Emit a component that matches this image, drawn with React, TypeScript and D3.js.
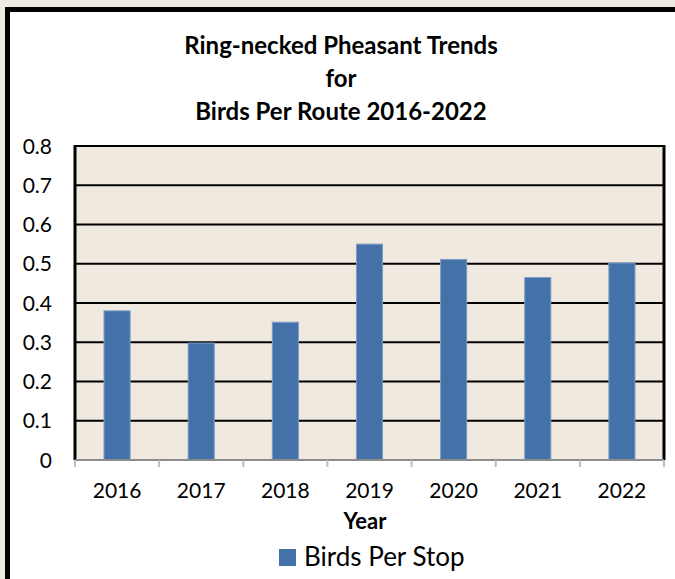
import React from "react";
import * as d3 from "d3";

const years = ["2016", "2017", "2018", "2019", "2020", "2021", "2022"];
const birdsPerStop = [0.38, 0.298, 0.351, 0.55, 0.511, 0.465, 0.502];
const yTicks = [0, 0.1, 0.2, 0.3, 0.4, 0.5, 0.6, 0.7, 0.8];
const titleLines = ["Ring-necked Pheasant Trends", "for", "Birds Per Route 2016-2022"];
const xTitle = "Year";
const seriesName = "Birds Per Stop";

const W = 675;
const H = 579;
const FONT = "Lato, 'Open Sans', sans-serif";

export default function App() {
  const plot = { left: 75, right: 664, top: 146, bottom: 460 };
  const x = d3
    .scaleBand<string>()
    .domain(years)
    .range([plot.left, plot.right])
    .paddingInner(0.69)
    .paddingOuter(0.345);
  const y = d3.scaleLinear().domain([0, 0.8]).range([plot.bottom, plot.top]);
  const step = x.step();
  const boundaries = d3.range(years.length + 1).map((i) => plot.left + i * step);

  return (
    <svg
      width={W}
      height={H}
      style={{ position: "absolute", left: 0, top: 0, display: "block" }}
      fontFamily={FONT}
    >
      <rect x={0} y={0} width={W} height={H} fill="#EEEAE1" />
      <rect x={7.5} y={9.5} width={W + 20} height={H + 20} fill="#ffffff" stroke="#000" strokeWidth={5} />

      {titleLines.map((t, i) => (
        <text
          key={i}
          x={341}
          y={54 + i * 33}
          textAnchor="middle"
          fontWeight="bold"
          fontSize={24}
          fill="#000"
        >
          {t}
        </text>
      ))}

      <rect
        x={plot.left}
        y={plot.top}
        width={plot.right - plot.left}
        height={plot.bottom - plot.top}
        fill="#EFE9DF"
      />

      {yTicks.slice(1).map((t) => (
        <line
          key={t}
          x1={plot.left}
          x2={plot.right}
          y1={y(t)}
          y2={y(t)}
          stroke="#000"
          strokeWidth={2}
        />
      ))}

      {years.map((yr, i) => (
        <rect
          key={yr}
          x={x(yr)}
          y={y(birdsPerStop[i])}
          width={x.bandwidth()}
          height={plot.bottom - y(birdsPerStop[i])}
          fill="#4472A8"
          stroke="#7C9CC6"
          strokeWidth={1}
        />
      ))}

      {/* right border */}
      <line x1={plot.right} x2={plot.right} y1={plot.top - 1} y2={plot.bottom} stroke="#000" strokeWidth={3} />
      {/* left axis */}
      <line x1={plot.left} x2={plot.left} y1={plot.top - 1} y2={plot.bottom} stroke="#000" strokeWidth={3} />

      {/* bottom axis */}
      <line x1={plot.left} x2={plot.right} y1={plot.bottom} y2={plot.bottom} stroke="#8C8C8C" strokeWidth={2} />
      {boundaries.map((bx, i) => (
        <line key={i} x1={bx} x2={bx} y1={plot.bottom} y2={plot.bottom + 7} stroke="#BDBDBD" strokeWidth={2} />
      ))}

      {yTicks.map((t) => (
        <text
          key={t}
          x={52}
          y={y(t)}
          dy="0.36em"
          textAnchor="end"
          fontSize={21}
          fill="#000"
        >
          {t === 0 ? "0" : d3.format(".1f")(t)}
        </text>
      ))}

      {years.map((yr) => (
        <text
          key={yr}
          x={(x(yr) as number) + x.bandwidth() / 2}
          y={498}
          textAnchor="middle"
          fontSize={21}
          fill="#000"
        >
          {yr}
        </text>
      ))}

      <text x={365} y={529} textAnchor="middle" fontWeight="bold" fontSize={22} fill="#000">
        {xTitle}
      </text>

      <rect x={279} y={549} width={17} height={17} fill="#4472A8" />
      <text x={304} y={566} fontSize={26} fill="#000">
        {seriesName}
      </text>
    </svg>
  );
}
